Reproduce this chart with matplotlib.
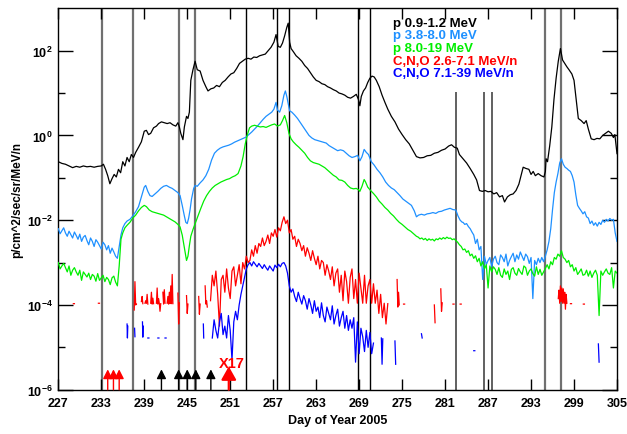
#!/usr/bin/env python3
"""Energetic particle fluxes, days 227-305 of 2005 (ACE/EPAM-style overview)."""

import matplotlib

matplotlib.use("Agg")
import matplotlib.pyplot as plt
import numpy as np

plt.rcParams["font.family"] = ["Liberation Sans", "DejaVu Sans"]
plt.rcParams["font.weight"] = "bold"
plt.rcParams["mathtext.fontset"] = "custom"
plt.rcParams["mathtext.bf"] = "Liberation Sans:bold"
plt.rcParams["mathtext.rm"] = "Liberation Sans:bold"
plt.rcParams["mathtext.default"] = "bf"

# ---------------------------------------------------------------------------
# Data (log10 flux; NaN = no data)
# ---------------------------------------------------------------------------

NAN = float("nan")
STEP = 0.25  # day spacing of the noisy stretches

# p 0.9-1.2 MeV
p1_readings = [
    (227.0, -0.62), (227.5, -0.66), (228.0, -0.68), (228.5, -0.72), (229.0, -0.76),
    (229.5, -0.73), (230.0, -0.75), (230.5, -0.72), (231.0, -0.74), (231.5, -0.73),
    (232.0, -0.75), (232.5, -0.73), (233.0, -0.72), (233.3, -0.68), (233.6, -0.80),
    (233.9, -0.95), (234.2, -1.14), (234.5, -1.02), (234.8, -0.92), (235.1, -0.98),
    (235.4, -0.80), (235.7, -0.88), (236.0, -0.62), (236.3, -0.72), (236.6, -0.52),
    (236.9, -0.62), (237.2, -0.45), (237.5, -0.52), (237.8, -0.40), (238.2, -0.28),
    (238.6, -0.15), (239.0, 0.10), (239.3, 0.12), (239.6, 0.02), (239.9, 0.05),
    (240.3, 0.18), (240.7, 0.22), (241.0, 0.28), (241.4, 0.32), (241.8, 0.30),
    (242.2, 0.28), (242.6, 0.30), (243.0, 0.25), (243.4, 0.22), (243.7, 0.30),
    (243.9, 0.20), (244.1, 0.05), (244.4, -0.10), (244.6, 0.20), (244.9, 0.45),
    (245.1, 0.40), (245.3, 0.55), (245.5, 1.30), (245.8, 1.55), (246.1, 1.75),
    (246.4, 1.55), (246.8, 1.52), (247.2, 1.30), (247.6, 1.15), (247.9, 1.05),
    (248.3, 1.10), (248.7, 1.12), (249.1, 1.18), (249.5, 1.15), (249.9, 1.25),
    (250.3, 1.30), (250.7, 1.38), (251.1, 1.45), (251.5, 1.48), (251.9, 1.58),
    (252.3, 1.70), (252.7, 1.75), (253.1, 1.80), (253.5, 1.82), (253.9, 1.80),
    (254.3, 1.85), (254.7, 1.84), (255.1, 1.88), (255.5, 1.90), (255.9, 1.92),
    (256.3, 2.00), (256.7, 2.08), (257.1, 2.20), (257.4, 2.38), (257.7, 2.10),
    (258.0, 2.08), (258.3, 2.18), (258.6, 2.35), (258.9, 2.55), (259.1, 2.65),
    (259.3, 2.20), (259.5, 2.05), (259.8, 1.98), (260.2, 1.88), (260.6, 1.82),
    (261.0, 1.75), (261.4, 1.65), (261.8, 1.58), (262.2, 1.48), (262.6, 1.38),
    (263.0, 1.30), (263.4, 1.27), (263.8, 1.22), (264.2, 1.20), (264.6, 1.15),
    (265.0, 1.12), (265.4, 1.08), (265.8, 1.05), (266.2, 1.00), (266.6, 0.98),
    (267.0, 0.95), (267.4, 0.90), (267.8, 0.88), (268.2, 0.92), (268.6, 0.97),
    (268.9, 0.85), (269.1, 0.70), (269.3, 0.92), (269.6, 1.05), (269.9, 1.12),
    (270.2, 1.25), (270.5, 1.35), (270.8, 1.40), (271.1, 1.38), (271.4, 1.30),
    (271.8, 1.15), (272.2, 0.95), (272.6, 0.78), (273.0, 0.62), (273.5, 0.45),
    (274.0, 0.32), (274.5, 0.15), (275.0, 0.02), (275.5, -0.10), (276.0, -0.20),
    (276.5, -0.35), (277.0, -0.50), (277.5, -0.53), (278.0, -0.52), (278.5, -0.48),
    (279.0, -0.47), (279.5, -0.42), (280.0, -0.40), (280.5, -0.35), (281.0, -0.32),
    (281.5, -0.25), (281.9, -0.22), (282.3, -0.28), (282.7, -0.30), (283.0, -0.45),
    (283.5, -0.55), (284.0, -0.65), (284.5, -0.78), (285.0, -0.92), (285.4, -1.05),
    (285.8, -1.30), (286.2, -1.32), (286.6, -1.30), (287.0, -1.33), (287.4, -1.32),
    (287.8, -1.38), (288.2, -1.35), (288.6, -1.45), (289.0, -1.42), (289.3, -1.57),
    (289.7, -1.45), (290.1, -1.40), (290.5, -1.38), (290.9, -1.30), (291.3, -1.15),
    (291.6, -0.95), (291.9, -0.75), (292.3, -0.78), (292.7, -0.80), (293.0, -0.92),
    (293.3, -0.85), (293.6, -0.95), (294.0, -0.90), (294.4, -0.95), (294.8, -0.98),
    (295.0, -0.85), (295.1, -0.55), (295.3, -0.62), (295.6, -0.25), (295.9, 0.20),
    (296.2, 0.85), (296.5, 1.35), (296.8, 1.75), (297.1, 2.05), (297.4, 1.78),
    (297.7, 1.70), (298.0, 1.62), (298.3, 1.55), (298.7, 1.45), (299.0, 1.30),
    (299.3, 0.85), (299.6, 0.40), (300.0, 0.35), (300.4, 0.28), (300.7, 0.35),
    (301.0, 0.15), (301.4, -0.08), (301.8, -0.10), (302.2, -0.07), (302.6, -0.08),
    (303.0, 0.00), (303.4, 0.05), (303.8, 0.10), (304.2, 0.05), (304.5, -0.05),
    (304.7, 0.02), (305.0, -0.43),
]

# p 3.8-8.0 MeV
p2_noisy_early_start = 227.0
p2_noisy_early = [
    -2.20, -2.32, -2.25, -2.18, -2.30, -2.38, -2.26, -2.34, -2.42, -2.28,
    -2.36, -2.45, -2.33, -2.50, -2.40, -2.36, -2.48, -2.58, -2.42, -2.50,
    -2.62, -2.46, -2.52, -2.60, -2.68, -2.52, -2.58, -2.70, -2.60, -2.78,
    -2.66, -2.75, -2.85, -2.90, -2.62, -2.35, -2.18,
]
p2_readings = [
    (236.3, -2.08), (236.6, -2.02), (237.0, -1.98), (237.4, -1.90), (237.8, -1.80),
    (238.2, -1.68), (238.6, -1.45), (239.0, -1.22), (239.2, -1.18), (239.5, -1.32),
    (239.8, -1.42), (240.1, -1.44), (240.5, -1.38), (240.9, -1.32), (241.3, -1.25),
    (241.7, -1.20), (242.1, -1.18), (242.5, -1.22), (242.9, -1.25), (243.3, -1.30),
    (243.7, -1.35), (244.0, -1.42), (244.3, -1.65), (244.6, -1.90), (244.8, -2.05),
    (245.0, -2.08), (245.2, -1.95), (245.4, -1.75), (245.6, -1.50), (245.9, -1.25),
    (246.1, -1.18), (246.4, -1.20), (246.8, -1.12), (247.2, -1.05), (247.6, -0.95),
    (248.0, -0.80), (248.4, -0.58), (248.8, -0.42), (249.2, -0.35), (249.6, -0.30),
    (250.0, -0.27), (250.4, -0.25), (250.8, -0.23), (251.2, -0.20), (251.6, -0.16),
    (252.0, -0.13), (252.4, -0.10), (252.8, -0.07), (253.2, -0.04), (253.6, 0.02),
    (254.0, 0.08), (254.4, 0.15), (254.8, 0.22), (255.2, 0.30), (255.6, 0.38),
    (256.0, 0.45), (256.4, 0.50), (256.8, 0.55), (257.1, 0.62), (257.4, 0.78),
    (257.6, 0.60), (257.9, 0.55), (258.2, 0.70), (258.5, 0.95), (258.7, 1.05),
    (258.9, 0.92), (259.1, 0.75), (259.3, 0.58), (259.6, 0.55), (260.0, 0.48),
    (260.4, 0.40), (260.8, 0.30), (261.2, 0.20), (261.6, 0.10), (262.0, 0.00),
    (262.4, -0.06), (262.8, -0.10), (263.2, -0.12), (263.6, -0.14), (264.0, -0.16),
    (264.4, -0.18), (264.8, -0.24), (265.2, -0.28), (265.6, -0.32), (266.0, -0.36),
    (266.4, -0.34), (266.8, -0.36), (267.2, -0.42), (267.6, -0.48), (268.0, -0.52),
    (268.4, -0.50), (268.8, -0.47), (269.1, -0.60), (269.4, -0.50), (269.7, -0.33),
    (270.0, -0.40), (270.3, -0.45), (270.7, -0.62), (271.1, -0.70), (271.5, -0.80),
    (271.9, -0.88), (272.3, -0.98), (272.7, -1.10), (273.1, -1.18), (273.5, -1.24),
    (273.9, -1.28), (274.3, -1.35), (274.7, -1.42), (275.1, -1.50), (275.5, -1.55),
    (275.9, -1.60), (276.3, -1.65), (276.7, -1.78), (277.0, -1.92), (277.3, -1.88),
    (277.7, -1.86), (278.1, -1.88), (278.5, -1.85), (278.9, -1.84), (279.3, -1.82),
    (279.7, -1.84), (280.1, -1.80), (280.5, -1.79), (280.9, -1.76), (281.3, -1.74),
    (281.7, -1.72), (282.1, -1.75), (282.5, -1.76), (282.8, -1.90), (283.1, -2.00),
    (283.4, -2.05),
]
p2_noisy_late_start = 283.5
p2_noisy_late = [
    -2.05, -2.10, -2.08, -2.15, -2.20, -2.28, -2.35, -2.55, -2.45, -2.70,
    -2.62, -3.40, -2.85, -3.05, -2.95, -2.88, -3.10, -2.92, -2.85, -3.00,
    -3.05, -2.82, -2.88, -2.98, -2.80, -3.08, -2.95, -2.86, -2.78, -2.98,
    -2.82, -2.92, -2.75, -2.85, -2.95, -2.80, -2.86, -3.02, -2.88, -3.85,
    -2.95, -3.05, -2.90, -3.00, -2.88, -2.98, -2.85, -2.70, -2.50, -2.20,
    -1.75, -1.35, -1.10, -0.90, -0.65, -0.55, -0.68, -0.75, -0.78, -0.82,
    -0.85, -0.95, -1.10, -1.40, -1.65, -1.72, -1.78, -1.85, -1.80, -1.92,
    -1.95, -2.08, -2.02, -2.12, -2.06, -2.14, -2.05, -2.10, -2.00, -2.05,
    -1.98, -2.02, -1.96, -2.00, -1.98, -2.30, -2.50,
]

# p 8.0-19 MeV
p3_noisy_early_start = 227.0
p3_noisy_early = [
    -3.00, -3.15, -3.08, -3.02, -3.12, -3.22, -3.08, -3.30, -3.18, -3.12,
    -3.22, -3.30, -3.18, -3.42, -3.22, -3.28, -3.34, -3.25, -3.40, -3.28,
    -3.32, -3.44, -3.26, -3.42, -3.36, -3.30, -3.45, -3.35, -3.40, -3.52,
    -3.36, -3.32, -3.46, -3.55, -3.08, -2.45, -2.30,
]
p3_readings = [
    (236.3, -2.18), (236.6, -2.12), (237.0, -2.05), (237.4, -1.95), (237.8, -1.88),
    (238.2, -1.78), (238.6, -1.70), (239.0, -1.65), (239.3, -1.68), (239.7, -1.76),
    (240.1, -1.80), (240.5, -1.82), (240.9, -1.84), (241.3, -1.86), (241.7, -1.88),
    (242.1, -1.92), (242.5, -1.96), (242.9, -2.00), (243.3, -2.04), (243.7, -2.10),
    (244.0, -2.16), (244.3, -2.35), (244.6, -2.65), (244.9, -2.95), (245.1, -2.85),
    (245.3, -2.60), (245.5, -2.38), (245.8, -2.22), (246.1, -2.08), (246.5, -1.90),
    (246.9, -1.72), (247.3, -1.55), (247.7, -1.42), (248.1, -1.32), (248.5, -1.24),
    (248.9, -1.18), (249.3, -1.14), (249.7, -1.10), (250.1, -1.07), (250.5, -1.04),
    (250.9, -1.02), (251.3, -0.98), (251.7, -0.95), (252.1, -0.90), (252.5, -0.72),
    (252.8, -0.50), (253.1, -0.20), (253.4, 0.02), (253.7, 0.18), (254.0, 0.22),
    (254.4, 0.24), (254.8, 0.22), (255.2, 0.20), (255.6, 0.21), (256.0, 0.19),
    (256.4, 0.22), (256.8, 0.25), (257.2, 0.27), (257.6, 0.22), (258.0, 0.25),
    (258.3, 0.35), (258.6, 0.47), (258.9, 0.30), (259.2, 0.05), (259.5, -0.08),
    (259.8, -0.15), (260.2, -0.22), (260.6, -0.28), (261.0, -0.35), (261.4, -0.42),
    (261.8, -0.52), (262.2, -0.60), (262.6, -0.64), (263.0, -0.66), (263.4, -0.68),
    (263.8, -0.72), (264.2, -0.76), (264.6, -0.82), (265.0, -0.88), (265.4, -0.94),
    (265.8, -0.98), (266.2, -1.05), (266.6, -1.06), (267.0, -1.10), (267.4, -1.18),
    (267.8, -1.24), (268.2, -1.26), (268.6, -1.25), (268.9, -1.28), (269.1, -1.32),
    (269.4, -1.20), (269.7, -1.04), (269.9, -1.10), (270.2, -1.22), (270.6, -1.30),
    (271.0, -1.37), (271.4, -1.45), (271.8, -1.55), (272.2, -1.62), (272.6, -1.70),
    (273.0, -1.76), (273.4, -1.84), (273.8, -1.90), (274.2, -1.98), (274.6, -2.05),
    (275.0, -2.10), (275.4, -2.16), (275.8, -2.22), (276.2, -2.26), (276.6, -2.32),
    (277.0, -2.38),
]
p3_noisy_late_start = 277.25
p3_noisy_late = [
    -2.40, -2.44, -2.42, -2.46, -2.43, -2.48, -2.44, -2.47, -2.45, -2.49,
    -2.44, -2.46, -2.42, -2.45, -2.41, -2.44, -2.40, -2.43, -2.42, -2.46,
    -2.44, -2.48, -2.52, -2.58, -2.62, -2.70, -2.68, -2.76, -2.72, -2.84,
    -2.80, -2.90, -2.84, -2.98, -2.90, -3.08, -2.98, -3.15, -3.05, -3.60,
    -3.08, -3.22, -3.10, -3.16, -3.28, -3.12, -3.30, -3.35, -3.15, -3.28,
    -3.20, -3.40, -3.16, -3.12, -3.25, -3.30, -3.14, -3.22, -3.28, -3.08,
    -3.12, -3.30, -3.20, -3.15, -3.26, -3.32, -3.10, -3.28, -3.16, -3.30,
    -3.22, -3.14, -3.05, -3.15, -2.98, -3.05, -2.88, -2.92, -2.80, -2.85,
    -2.72, -2.88, -2.92, -3.00, -2.95, -3.10, -3.05, -3.20, -3.12, -3.28,
    -3.22, -3.15, -3.30, -3.28, -3.18, -3.32, -3.20, -3.35, -3.25, -3.18,
    -3.30, -4.25, -3.20, -3.30, -3.22, -3.15, -3.25, -3.28, -3.12, -3.60,
    -3.20, -3.25,
]

# C,N,O 2.6-7.1 MeV/n
cno1_early = [
    (229.1, -3.97), (229.25, -3.97), (NAN, NAN), (232.6, -3.96), (232.75, -3.96), (NAN, NAN),
    (237.6, -4.12), (237.7, -3.45), (237.8, -4.00), (237.9, -3.98), (NAN, NAN),
    (238.6, -3.92), (238.7, -3.80), (238.8, -3.97), (NAN, NAN),
    (239.1, -3.96), (239.2, -3.90), (239.3, -3.96), (239.4, -3.75), (239.5, -3.98), (NAN, NAN),
    (239.9, -3.96), (240.0, -3.70), (240.1, -3.98), (240.2, -3.84), (240.3, -3.97), (NAN, NAN),
    (240.7, -3.96), (240.8, -3.60), (240.9, -3.98), (241.0, -3.85), (241.1, -3.96),
    (241.2, -4.15), (241.3, -3.97), (NAN, NAN),
    (241.6, -3.70), (241.7, -3.98), (241.8, -3.64), (241.9, -3.96), (NAN, NAN),
    (242.2, -3.96), (242.3, -3.80), (242.4, -3.98), (242.5, -3.70), (242.6, -3.97),
    (242.7, -3.55), (242.8, -3.97), (242.9, -3.28), (243.0, -3.97), (NAN, NAN),
    (243.7, -3.72), (243.8, -4.45), (243.9, -3.95), (NAN, NAN),
    (244.9, -3.78), (245.0, -4.20), (245.1, -3.98), (NAN, NAN),
    (246.6, -3.80), (246.7, -4.22), (246.8, -3.98), (NAN, NAN),
    (247.5, -3.55), (247.6, -3.98), (247.7, -3.90), (247.8, -4.05), (NAN, NAN),
]
cno1_main_start = 248.25
cno1_main = [
    -3.90, -3.30, -3.55, -3.20, -3.75, -4.50, -3.40, -3.30, -3.70, -3.15,
    -3.60, -3.85, -3.20, -3.10, -3.55, -3.30, -3.05, -3.50, -3.00, -3.15,
    -2.85, -3.00, -2.95, -2.70, -2.85, -2.60, -2.78, -2.55, -2.62, -2.42,
    -2.60, -2.50, -2.35, -2.55, -2.30, -2.38, -2.22, -2.40, -2.18, -2.25,
    -2.05, -1.92, -2.08, -2.00, -2.30, -2.22, -2.45, -2.38, -2.62, -2.45,
    -2.55, -2.72, -2.60, -2.85, -2.65, -2.78, -2.95, -2.72, -2.90, -3.05,
    -2.85, -3.15, -2.95, -3.00, -3.30, -3.05, -3.20, -3.40, -3.10, -3.55,
    -3.25, -3.15, -3.70, -3.30, -3.90, -3.20, -3.45, -3.96, -3.35, -3.15,
    -3.85, -3.40, -3.96, -3.25, -3.60, -3.96, -3.30, -3.96, -3.55, -3.40,
    -3.96, -3.50, -3.96, -3.65, -4.20, -3.75, -4.30, -3.96, -4.45, -3.97,
]
cno1_late = [
    (NAN, NAN), (274.3, -3.40), (274.4, -4.05), (274.5, -3.70), (274.6, -4.00), (NAN, NAN),
    (275.2, -3.98), (275.35, -3.98), (NAN, NAN),
    (279.5, -4.00), (279.6, -4.42), (NAN, NAN),
    (280.4, -3.62), (280.5, -4.15), (280.6, -3.95), (NAN, NAN),
    (282.1, -3.98), (282.25, -3.98), (NAN, NAN), (283.1, -3.98), (283.25, -3.98), (NAN, NAN),
    (296.8, -3.85), (296.9, -3.65), (297.0, -3.96), (297.1, -3.55), (297.2, -3.92),
    (297.3, -3.60), (297.4, -3.96), (297.5, -3.62), (297.6, -3.96), (297.7, -3.70),
    (297.8, -4.10), (297.9, -3.75), (298.0, -3.96), (NAN, NAN),
    (298.5, -3.97), (298.65, -3.97), (NAN, NAN), (300.3, -3.98), (300.45, -3.98),
]

# C,N,O 7.1-39 MeV/n
cno2_early = [
    (236.6, -4.45), (236.65, -4.78), (236.7, -4.50), (NAN, NAN),
    (237.65, -4.55), (237.7, -4.75), (NAN, NAN),
    (238.75, -4.40), (238.8, -4.76), (238.85, -4.50), (NAN, NAN),
    (239.5, -4.78), (239.65, -4.78), (NAN, NAN),
    (240.9, -4.78), (241.05, -4.78), (NAN, NAN),
    (241.9, -4.78), (242.05, -4.78), (NAN, NAN),
    (247.25, -4.45), (247.3, -4.78), (NAN, NAN),
]
cno2_main_start = 248.5
cno2_main = [
    -4.78, -4.35, -4.60, -4.78, -4.40, -4.20, -4.70, -4.50, -4.78, -4.25,
    -4.60, -5.30, -4.40, -4.15, -4.35, -4.00, -3.75, -3.55, -3.35, -3.15,
    -3.05, -3.00, -3.08, -2.98, -3.04, -3.10, -3.02, -3.08, -3.14, -3.05,
    -3.12, -3.18, -3.08, -3.14, -3.20, -3.06, -3.12, -3.04, -3.10, -3.02,
    -3.00, -3.08, -3.25, -3.55, -3.70, -3.62, -3.80, -3.92, -3.70, -3.85,
    -3.98, -3.78, -3.90, -4.10, -3.85, -4.00, -4.20, -3.90, -4.15, -4.05,
    -4.30, -3.95, -4.25, -4.40, -4.05, -4.20, -4.35, -4.02, -4.45, -4.25,
    -4.10, -4.50, -4.30, -4.15, -4.55, -4.25, -4.60, -4.35, -4.55, -4.30,
    -5.35, -4.40, -5.15, -4.55, -4.75, -5.10, -4.60, -5.00, -4.65, -5.15,
    -4.90,
]
cno2_late = [
    (NAN, NAN), (272.1, -4.78), (272.2, -5.40), (272.3, -4.80), (NAN, NAN),
    (274.0, -4.85), (274.1, -5.40), (NAN, NAN),
    (277.7, -4.68), (277.8, -4.78), (NAN, NAN),
    (285.0, -5.08), (285.15, -5.08), (NAN, NAN),
    (302.4, -4.92), (302.5, -5.35),
]

# Event markers
flare_red_days = [233.9, 234.7, 235.5]
flare_black_days = [241.4, 243.8, 245.0, 246.2, 248.3]
x17_day = 250.8

gray_lines = [233.06, 237.42, 243.84, 246.07, 295.0, 297.24]
black_lines = [253.23, 257.56, 259.19, 268.89, 270.53]
short_lines = [282.59, 286.44, 287.6]

legend_labels = [
    "p 0.9-1.2 MeV",
    "p 3.8-8.0 MeV",
    "p 8.0-19 MeV",
    "C,N,O 2.6-7.1 MeV/n",
    "C,N,O 7.1-39 MeV/n",
]
colors = ["black", "#1e90ff", "#00ee00", "#ff0000", "#0000ff"]


# ---------------------------------------------------------------------------
# Helpers
# ---------------------------------------------------------------------------


def grid(start: float, vals: list[float]) -> list[tuple[float, float]]:
    return [(start + STEP * i, v) for i, v in enumerate(vals)]


def unpack(pairs):
    days, logs = zip(*pairs)
    return np.array(days), 10.0 ** np.array(logs)


series = [
    p1_readings,
    grid(p2_noisy_early_start, p2_noisy_early) + p2_readings + grid(p2_noisy_late_start, p2_noisy_late),
    grid(p3_noisy_early_start, p3_noisy_early) + p3_readings + grid(p3_noisy_late_start, p3_noisy_late),
    cno1_early + grid(cno1_main_start, cno1_main) + cno1_late,
    cno2_early + grid(cno2_main_start, cno2_main) + cno2_late,
]

# ---------------------------------------------------------------------------
# Plot
# ---------------------------------------------------------------------------

fig = plt.figure(figsize=(6.27, 4.35), dpi=100)
ax = fig.add_axes([58.3 / 627, 44.3 / 435, 558.7 / 627, 381.4 / 435])

ymin, ymax = 1e-6, 1e3
ax.vlines(gray_lines, ymin, ymax, color="#707070", lw=1.6, zorder=1)
ax.vlines(black_lines, ymin, ymax, color="black", lw=1.0, zorder=1)
ax.vlines(short_lines, ymin, 10**1.03, color="#606060", lw=1.4, zorder=1)

for pairs, color in zip(series, colors):
    d, f = unpack(pairs)
    ax.plot(d, f, color=color, lw=0.9, zorder=3)

for d in flare_red_days:
    ax.annotate("", xy=(d, 10**-5.52), xytext=(d, ymin),
                arrowprops=dict(arrowstyle="-|>,head_length=0.55,head_width=0.28",
                                color="red", lw=1.0, shrinkA=0, shrinkB=0), zorder=4)
for d in flare_black_days:
    ax.annotate("", xy=(d, 10**-5.52), xytext=(d, ymin),
                arrowprops=dict(arrowstyle="-|>,head_length=0.55,head_width=0.28",
                                color="black", lw=1.0, shrinkA=0, shrinkB=0), zorder=4)
ax.annotate("", xy=(x17_day, 10**-5.45), xytext=(x17_day, ymin),
            arrowprops=dict(arrowstyle="-|>,head_length=0.8,head_width=0.45",
                            color="red", lw=1.6, shrinkA=0, shrinkB=0), zorder=4)
ax.text(x17_day + 0.4, 10**-5.38, "X17", color="red", fontsize=10.5, fontweight="bold",
        ha="center", va="center", zorder=5)

legend_y = [0.962, 0.929, 0.896, 0.863, 0.830]
for label, color, y in zip(legend_labels, colors, legend_y):
    ax.text(0.599, y, label, transform=ax.transAxes, color=color, fontsize=9.5,
            fontweight="bold", va="center")

ax.set_yscale("log")
ax.set_xlim(227, 305)
ax.set_ylim(ymin, ymax)
ax.set_xticks(range(227, 306, 6))
ax.set_yticks([1e-6, 1e-4, 1e-2, 1e0, 1e2])
ax.set_yticklabels([r"$10^{-6}$", r"$10^{-4}$", r"$10^{-2}$", r"$10^{0}$", r"$10^{2}$"])
ax.set_yticks([1e-5, 1e-3, 1e-1, 1e1], minor=True)
ax.set_yticklabels([], minor=True)
ax.tick_params(axis="both", which="both", direction="in", top=True, right=True,
               labelsize=9, width=1.0)
ax.tick_params(axis="x", length=8, pad=5)
ax.tick_params(axis="y", which="major", length=11, pad=4)
ax.tick_params(axis="y", which="minor", length=5)
for spine in ax.spines.values():
    spine.set_linewidth(1.0)

ax.set_xlabel("Day of Year 2005", fontsize=9, fontweight="bold", labelpad=4)
ax.set_ylabel("p/cm^2/sec/sr/MeV/n", fontsize=8.5, fontweight="bold")
ax.yaxis.set_label_coords(-0.062, 0.5)

fig.savefig("out.png", dpi=100)
